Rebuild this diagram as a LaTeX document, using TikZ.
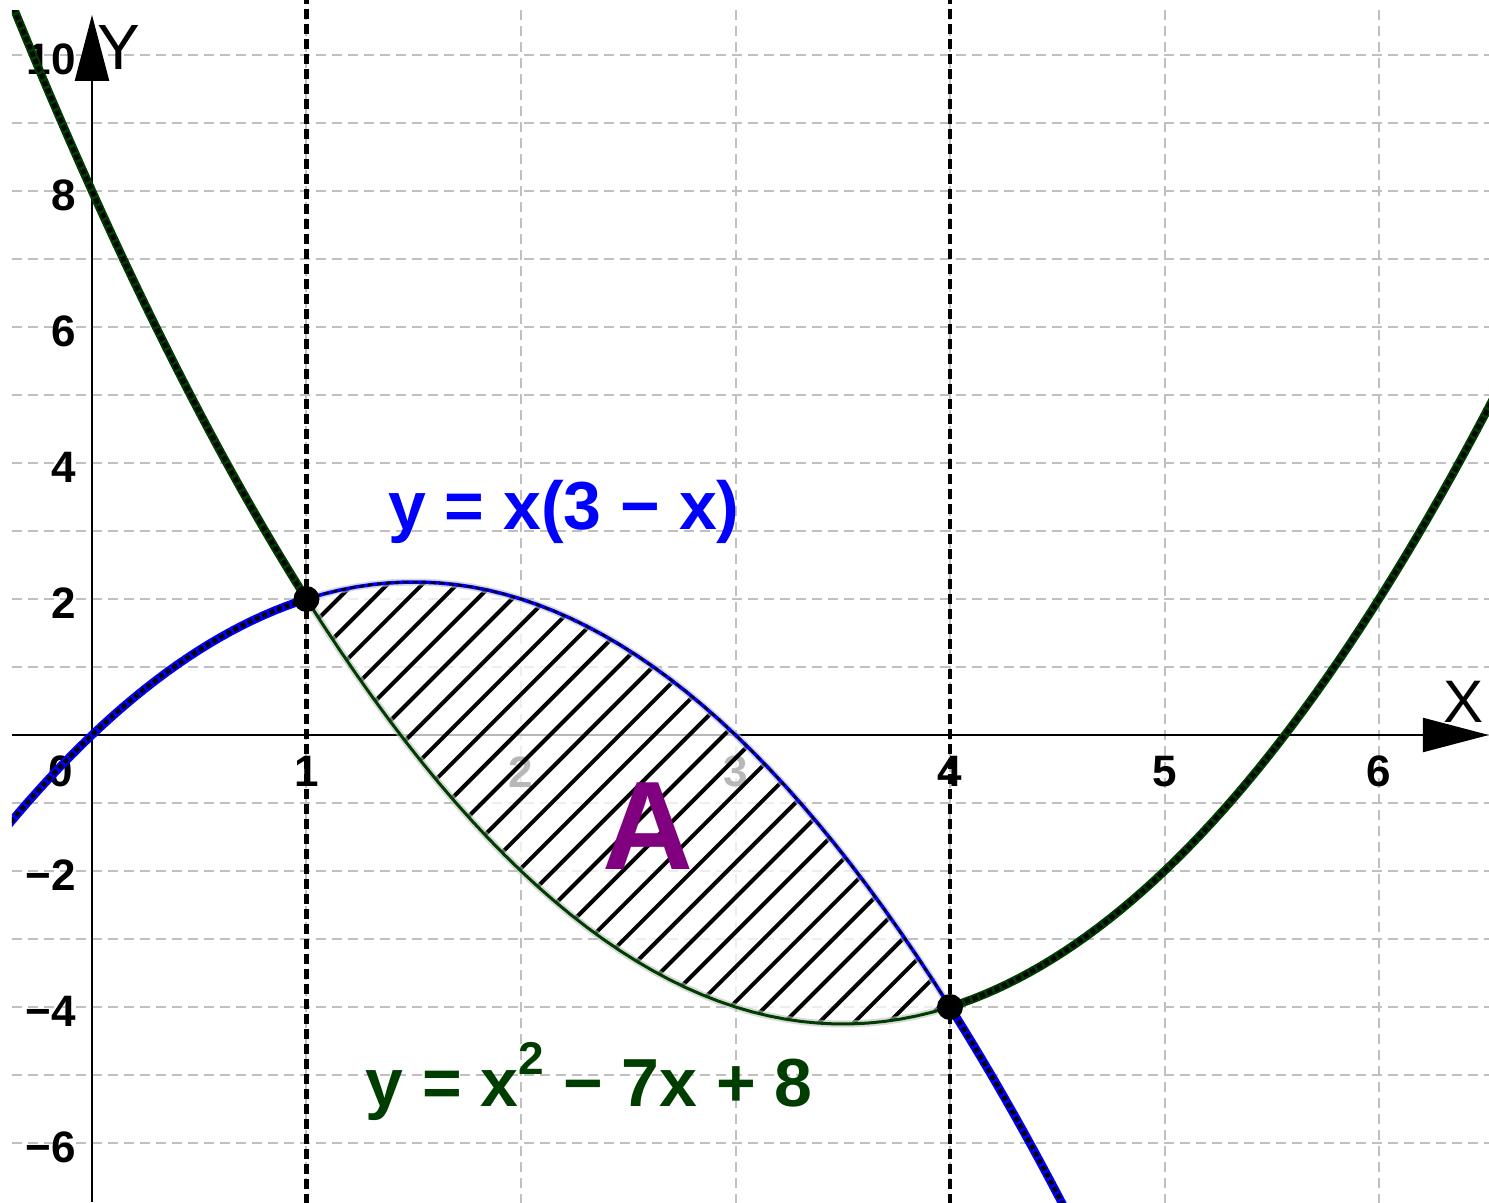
\documentclass[tikz,border=0pt]{standalone}
\usepackage{fontspec}
\setmainfont{Liberation Sans}
\usetikzlibrary{arrows.meta}
\definecolor{verdeosc}{HTML}{003D00}
\definecolor{azul}{HTML}{0000FF}
\definecolor{morado}{HTML}{800080}
\definecolor{rejillagris}{HTML}{C0C0C0}

\begin{document}
\begin{tikzpicture}[x=107.25pt,y=34pt,
      rejilla/.style={rejillagris,line width=1pt,dash pattern=on 5pt off 3pt},
      eje/.style={line width=1.2pt,-{Triangle[length=33pt,width=17pt]}},
      marca/.style={font=\fontsize{22}{22}\selectfont\bfseries,inner sep=0pt},
      guia/.style={line width=2.2pt,dash pattern=on 5pt off 2.5pt},
      trazo/.style={line width=4.2pt},
      punteado/.style={black,line width=2.3pt,dash pattern=on 2.5pt off 1.5pt},
      punto/.style={circle,fill=black,minimum size=13pt,inner sep=0pt},
      formula/.style={font=\fontsize{34}{34}\selectfont\bfseries,inner sep=0pt,anchor=base},
      rayado/.style={black,line width=2pt}]
    \useasboundingbox (-0.4289,-6.868) rectangle (6.5128,10.809);
    % rejilla
    \foreach \y in {-6,...,10}
      \draw[rejilla] (-0.373,\y) -- (6.52,\y);
    \foreach \x in {1,...,6}
      \draw[rejilla] (\x,-6.9) -- (\x,10.66);
    % ejes
    \coordinate (xi) at (-0.373,0);
    \coordinate (xf) at (6.512,0);
    \coordinate (yi) at (0,-6.87);
    \coordinate (yf) at (0,10.59);
    \draw[eje] (xi) -- (xf);
    \draw[eje] (yi) -- (yf);
    \node[font=\fontsize{30}{30}\selectfont] (ejex) at (6.392,0.485) {X};
    \node[font=\fontsize{32}{32}\selectfont] (ejey) at (0.126,10.11) {Y};
    \foreach \y/\t in {10/10,8/8,6/6,4/4,2/2,-2/−2,-4/−4,-6/−6}
      \node[marca,anchor=east] (ey\y) at (-0.075,\y-0.06) {\t};
    \node[marca] (ex0) at (-0.145,-0.54) {0};
    \foreach \x in {1,...,6}
      \node[marca] (ex\x) at (\x,-0.54) {\x};
    % rectas x=1 y x=4
    \coordinate (g1a) at (1,10.9);
    \coordinate (g1b) at (1,-6.9);
    \coordinate (g4a) at (4,10.9);
    \coordinate (g4b) at (4,-6.9);
    \draw[guia] (g1a) -- (g1b);
    \draw[guia] (g4a) -- (g4b);
    % recinto
    \fill[white,fill opacity=.72] plot[domain=1:4,samples=40] (\x,{\x*(3-\x)})
      -- plot[domain=4:1,samples=40] (\x,{\x*\x-7*\x+8}) -- cycle;
    \begin{scope}
      \clip plot[domain=1:4,samples=40] (\x,{\x*(3-\x)})
        -- plot[domain=4:1,samples=40] (\x,{\x*\x-7*\x+8}) -- cycle;
      \foreach \c in {0,...,34}
        \draw[rayado] ({2.8pt+17.4pt*\c-250pt},-250pt) -- ++(500pt,500pt);
    \end{scope}
    \draw[gray!50,line width=3.5pt,opacity=.6] plot[domain=1:4,samples=40] (\x,{\x*(3-\x)})
      -- plot[domain=4:1,samples=40] (\x,{\x*\x-7*\x+8}) -- cycle;
    \draw[azul,line width=1.8pt] plot[domain=1:4,samples=40] (\x,{\x*(3-\x)});
    \draw[black,line width=1pt,dash pattern=on 2.5pt off 2pt] plot[domain=1:4,samples=40] (\x,{\x*(3-\x)});
    \draw[verdeosc,line width=1.5pt] plot[domain=1:4,samples=40] (\x,{\x*\x-7*\x+8});
    % curvas
    \begin{scope}
      \clip (-0.373,-6.868) rectangle (6.5128,10.66);
      \draw[trazo,verdeosc] plot[domain=-0.45:1,samples=30] (\x,{\x*\x-7*\x+8});
      \draw[punteado] plot[domain=-0.45:1,samples=30] (\x,{\x*\x-7*\x+8});
      \draw[trazo,verdeosc] plot[domain=4:6.6,samples=50] (\x,{\x*\x-7*\x+8});
      \draw[punteado] plot[domain=4:6.6,samples=50] (\x,{\x*\x-7*\x+8});
      \draw[trazo,azul] plot[domain=-0.45:1,samples=30] (\x,{\x*(3-\x)});
      \draw[punteado] plot[domain=-0.45:1,samples=30] (\x,{\x*(3-\x)});
      \draw[trazo,azul] plot[domain=4:4.6,samples=20] (\x,{\x*(3-\x)});
      \draw[punteado] plot[domain=4:4.6,samples=20] (\x,{\x*(3-\x)});
    \end{scope}
    \node[punto] (P) at (1,2) {};
    \node[punto] (Q) at (4,-4) {};
    % rotulos
    \node[formula,text=azul] (fazul) at (2.2,3.015) {y = x(3 − x)};
    \node[formula,text=verdeosc] (fverde) at (2.317,-5.47)
      {y = x\raisebox{16pt}{\fontsize{23}{23}\selectfont 2} − 7x + 8};
    \node[font=\fontsize{63}{63}\selectfont\bfseries,text=morado,anchor=base,inner sep=0pt]
      (area) at (2.59,-1.985) {A};
  \end{tikzpicture}
\end{document}
